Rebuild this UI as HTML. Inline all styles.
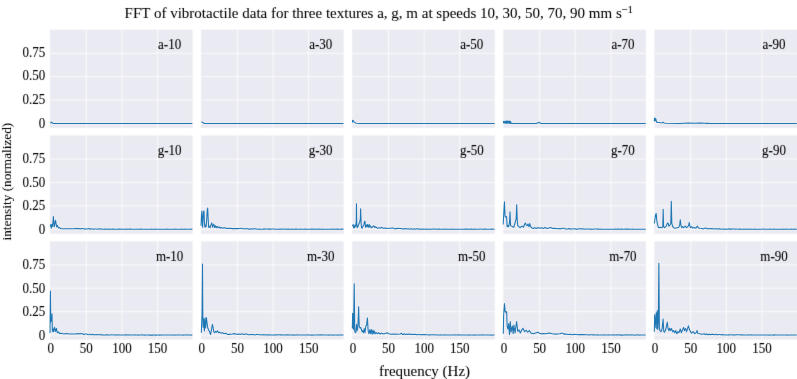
<!DOCTYPE html>
<html><head><meta charset="utf-8"><style>
html,body{margin:0;padding:0;background:#fff;}
svg{display:block;}
.t{font-family:"Liberation Serif",serif;font-size:13px;fill:#000;stroke:#000;stroke-width:0.08px;}
.g{stroke:#fff;stroke-width:1;stroke-opacity:0.75;}
.ln{fill:none;stroke:#1f77b4;stroke-width:1.05;stroke-linejoin:round;}
</style></head><body>
<svg width="797" height="379" viewBox="0 0 797 379">
<defs><filter id="bl" x="0" y="0" width="797" height="379" filterUnits="userSpaceOnUse" primitiveUnits="userSpaceOnUse"><feConvolveMatrix order="3" kernelMatrix="0.01134 0.08382 0.01134 0.08382 0.61935 0.08382 0.01134 0.08382 0.01134" edgeMode="duplicate"/></filter><filter id="bt" x="0" y="0" width="797" height="379" filterUnits="userSpaceOnUse" primitiveUnits="userSpaceOnUse"><feConvolveMatrix order="3" kernelMatrix="0.00524 0.06192 0.00524 0.06192 0.73137 0.06192 0.00524 0.06192 0.00524" edgeMode="duplicate"/></filter></defs>
<g filter="url(#bl)">
<rect width="797" height="379" fill="#fff"/>
<rect x="50.00" y="29.7" width="142.60" height="98.3" fill="#eaeaf2"/>
<line x1="50.00" x2="192.6" y1="123.45" y2="123.45" class="g"/>
<line x1="50.00" x2="192.6" y1="100.05" y2="100.05" class="g"/>
<line x1="50.00" x2="192.6" y1="76.65" y2="76.65" class="g"/>
<line x1="50.00" x2="192.6" y1="53.25" y2="53.25" class="g"/>
<line x1="86.33" x2="86.33" y1="29.7" y2="128.0" class="g"/>
<line x1="121.95" x2="121.95" y1="29.7" y2="128.0" class="g"/>
<line x1="157.57" x2="157.57" y1="29.7" y2="128.0" class="g"/>
<rect x="201.10" y="29.7" width="142.60" height="98.3" fill="#eaeaf2"/>
<line x1="201.10" x2="343.7" y1="123.45" y2="123.45" class="g"/>
<line x1="201.10" x2="343.7" y1="100.05" y2="100.05" class="g"/>
<line x1="201.10" x2="343.7" y1="76.65" y2="76.65" class="g"/>
<line x1="201.10" x2="343.7" y1="53.25" y2="53.25" class="g"/>
<line x1="237.42" x2="237.42" y1="29.7" y2="128.0" class="g"/>
<line x1="273.05" x2="273.05" y1="29.7" y2="128.0" class="g"/>
<line x1="308.67" x2="308.67" y1="29.7" y2="128.0" class="g"/>
<rect x="352.20" y="29.7" width="142.60" height="98.3" fill="#eaeaf2"/>
<line x1="352.20" x2="494.8" y1="123.45" y2="123.45" class="g"/>
<line x1="352.20" x2="494.8" y1="100.05" y2="100.05" class="g"/>
<line x1="352.20" x2="494.8" y1="76.65" y2="76.65" class="g"/>
<line x1="352.20" x2="494.8" y1="53.25" y2="53.25" class="g"/>
<line x1="388.53" x2="388.53" y1="29.7" y2="128.0" class="g"/>
<line x1="424.15" x2="424.15" y1="29.7" y2="128.0" class="g"/>
<line x1="459.78" x2="459.78" y1="29.7" y2="128.0" class="g"/>
<rect x="503.30" y="29.7" width="142.60" height="98.3" fill="#eaeaf2"/>
<line x1="503.30" x2="645.9" y1="123.45" y2="123.45" class="g"/>
<line x1="503.30" x2="645.9" y1="100.05" y2="100.05" class="g"/>
<line x1="503.30" x2="645.9" y1="76.65" y2="76.65" class="g"/>
<line x1="503.30" x2="645.9" y1="53.25" y2="53.25" class="g"/>
<line x1="539.62" x2="539.62" y1="29.7" y2="128.0" class="g"/>
<line x1="575.25" x2="575.25" y1="29.7" y2="128.0" class="g"/>
<line x1="610.88" x2="610.88" y1="29.7" y2="128.0" class="g"/>
<rect x="654.40" y="29.7" width="142.60" height="98.3" fill="#eaeaf2"/>
<line x1="654.40" x2="797.0" y1="123.45" y2="123.45" class="g"/>
<line x1="654.40" x2="797.0" y1="100.05" y2="100.05" class="g"/>
<line x1="654.40" x2="797.0" y1="76.65" y2="76.65" class="g"/>
<line x1="654.40" x2="797.0" y1="53.25" y2="53.25" class="g"/>
<line x1="690.73" x2="690.73" y1="29.7" y2="128.0" class="g"/>
<line x1="726.35" x2="726.35" y1="29.7" y2="128.0" class="g"/>
<line x1="761.98" x2="761.98" y1="29.7" y2="128.0" class="g"/>
<rect x="50.00" y="135.5" width="142.60" height="98.3" fill="#eaeaf2"/>
<line x1="50.00" x2="192.6" y1="229.25" y2="229.25" class="g"/>
<line x1="50.00" x2="192.6" y1="205.85" y2="205.85" class="g"/>
<line x1="50.00" x2="192.6" y1="182.45" y2="182.45" class="g"/>
<line x1="50.00" x2="192.6" y1="159.05" y2="159.05" class="g"/>
<line x1="86.33" x2="86.33" y1="135.5" y2="233.8" class="g"/>
<line x1="121.95" x2="121.95" y1="135.5" y2="233.8" class="g"/>
<line x1="157.57" x2="157.57" y1="135.5" y2="233.8" class="g"/>
<rect x="201.10" y="135.5" width="142.60" height="98.3" fill="#eaeaf2"/>
<line x1="201.10" x2="343.7" y1="229.25" y2="229.25" class="g"/>
<line x1="201.10" x2="343.7" y1="205.85" y2="205.85" class="g"/>
<line x1="201.10" x2="343.7" y1="182.45" y2="182.45" class="g"/>
<line x1="201.10" x2="343.7" y1="159.05" y2="159.05" class="g"/>
<line x1="237.42" x2="237.42" y1="135.5" y2="233.8" class="g"/>
<line x1="273.05" x2="273.05" y1="135.5" y2="233.8" class="g"/>
<line x1="308.67" x2="308.67" y1="135.5" y2="233.8" class="g"/>
<rect x="352.20" y="135.5" width="142.60" height="98.3" fill="#eaeaf2"/>
<line x1="352.20" x2="494.8" y1="229.25" y2="229.25" class="g"/>
<line x1="352.20" x2="494.8" y1="205.85" y2="205.85" class="g"/>
<line x1="352.20" x2="494.8" y1="182.45" y2="182.45" class="g"/>
<line x1="352.20" x2="494.8" y1="159.05" y2="159.05" class="g"/>
<line x1="388.53" x2="388.53" y1="135.5" y2="233.8" class="g"/>
<line x1="424.15" x2="424.15" y1="135.5" y2="233.8" class="g"/>
<line x1="459.78" x2="459.78" y1="135.5" y2="233.8" class="g"/>
<rect x="503.30" y="135.5" width="142.60" height="98.3" fill="#eaeaf2"/>
<line x1="503.30" x2="645.9" y1="229.25" y2="229.25" class="g"/>
<line x1="503.30" x2="645.9" y1="205.85" y2="205.85" class="g"/>
<line x1="503.30" x2="645.9" y1="182.45" y2="182.45" class="g"/>
<line x1="503.30" x2="645.9" y1="159.05" y2="159.05" class="g"/>
<line x1="539.62" x2="539.62" y1="135.5" y2="233.8" class="g"/>
<line x1="575.25" x2="575.25" y1="135.5" y2="233.8" class="g"/>
<line x1="610.88" x2="610.88" y1="135.5" y2="233.8" class="g"/>
<rect x="654.40" y="135.5" width="142.60" height="98.3" fill="#eaeaf2"/>
<line x1="654.40" x2="797.0" y1="229.25" y2="229.25" class="g"/>
<line x1="654.40" x2="797.0" y1="205.85" y2="205.85" class="g"/>
<line x1="654.40" x2="797.0" y1="182.45" y2="182.45" class="g"/>
<line x1="654.40" x2="797.0" y1="159.05" y2="159.05" class="g"/>
<line x1="690.73" x2="690.73" y1="135.5" y2="233.8" class="g"/>
<line x1="726.35" x2="726.35" y1="135.5" y2="233.8" class="g"/>
<line x1="761.98" x2="761.98" y1="135.5" y2="233.8" class="g"/>
<rect x="50.00" y="241.3" width="142.60" height="98.3" fill="#eaeaf2"/>
<line x1="50.00" x2="192.6" y1="335.05" y2="335.05" class="g"/>
<line x1="50.00" x2="192.6" y1="311.65" y2="311.65" class="g"/>
<line x1="50.00" x2="192.6" y1="288.25" y2="288.25" class="g"/>
<line x1="50.00" x2="192.6" y1="264.85" y2="264.85" class="g"/>
<line x1="86.33" x2="86.33" y1="241.3" y2="339.6" class="g"/>
<line x1="121.95" x2="121.95" y1="241.3" y2="339.6" class="g"/>
<line x1="157.57" x2="157.57" y1="241.3" y2="339.6" class="g"/>
<rect x="201.10" y="241.3" width="142.60" height="98.3" fill="#eaeaf2"/>
<line x1="201.10" x2="343.7" y1="335.05" y2="335.05" class="g"/>
<line x1="201.10" x2="343.7" y1="311.65" y2="311.65" class="g"/>
<line x1="201.10" x2="343.7" y1="288.25" y2="288.25" class="g"/>
<line x1="201.10" x2="343.7" y1="264.85" y2="264.85" class="g"/>
<line x1="237.42" x2="237.42" y1="241.3" y2="339.6" class="g"/>
<line x1="273.05" x2="273.05" y1="241.3" y2="339.6" class="g"/>
<line x1="308.67" x2="308.67" y1="241.3" y2="339.6" class="g"/>
<rect x="352.20" y="241.3" width="142.60" height="98.3" fill="#eaeaf2"/>
<line x1="352.20" x2="494.8" y1="335.05" y2="335.05" class="g"/>
<line x1="352.20" x2="494.8" y1="311.65" y2="311.65" class="g"/>
<line x1="352.20" x2="494.8" y1="288.25" y2="288.25" class="g"/>
<line x1="352.20" x2="494.8" y1="264.85" y2="264.85" class="g"/>
<line x1="388.53" x2="388.53" y1="241.3" y2="339.6" class="g"/>
<line x1="424.15" x2="424.15" y1="241.3" y2="339.6" class="g"/>
<line x1="459.78" x2="459.78" y1="241.3" y2="339.6" class="g"/>
<rect x="503.30" y="241.3" width="142.60" height="98.3" fill="#eaeaf2"/>
<line x1="503.30" x2="645.9" y1="335.05" y2="335.05" class="g"/>
<line x1="503.30" x2="645.9" y1="311.65" y2="311.65" class="g"/>
<line x1="503.30" x2="645.9" y1="288.25" y2="288.25" class="g"/>
<line x1="503.30" x2="645.9" y1="264.85" y2="264.85" class="g"/>
<line x1="539.62" x2="539.62" y1="241.3" y2="339.6" class="g"/>
<line x1="575.25" x2="575.25" y1="241.3" y2="339.6" class="g"/>
<line x1="610.88" x2="610.88" y1="241.3" y2="339.6" class="g"/>
<rect x="654.40" y="241.3" width="142.60" height="98.3" fill="#eaeaf2"/>
<line x1="654.40" x2="797.0" y1="335.05" y2="335.05" class="g"/>
<line x1="654.40" x2="797.0" y1="311.65" y2="311.65" class="g"/>
<line x1="654.40" x2="797.0" y1="288.25" y2="288.25" class="g"/>
<line x1="654.40" x2="797.0" y1="264.85" y2="264.85" class="g"/>
<line x1="690.73" x2="690.73" y1="241.3" y2="339.6" class="g"/>
<line x1="726.35" x2="726.35" y1="241.3" y2="339.6" class="g"/>
<line x1="761.98" x2="761.98" y1="241.3" y2="339.6" class="g"/>
</g>
<g>
<polyline points="50.40,123.30 51.00,122.60 51.60,122.00 52.30,122.90 53.50,123.40 55.00,123.41 59.00,123.45 63.00,123.47 67.00,123.49 71.00,123.50 75.00,123.51 79.00,123.52 83.00,123.53 87.00,123.53 91.00,123.54 192.40,123.55" class="ln"/>
<polyline points="201.50,122.30 202.20,122.00 203.00,122.80 204.50,123.40 206.00,123.41 210.00,123.45 214.00,123.47 218.00,123.49 222.00,123.50 226.00,123.51 230.00,123.52 234.00,123.53 238.00,123.53 242.00,123.54 343.50,123.55" class="ln"/>
<polyline points="352.40,122.50 352.60,120.30 353.20,120.60 353.80,121.60 354.50,122.30 355.50,122.90 356.50,123.30 360.00,123.40 361.50,123.41 365.50,123.45 369.50,123.47 373.50,123.49 377.50,123.50 381.50,123.51 385.50,123.52 389.50,123.53 393.50,123.53 397.50,123.54 494.60,123.55" class="ln"/>
<polyline points="503.30,121.19 503.75,123.09 504.20,121.39 504.65,123.04 505.10,121.32 505.55,123.22 506.00,121.03 506.45,123.30 506.90,121.02 507.35,123.26 507.80,121.04 508.25,123.05 508.70,121.25 509.15,123.50 509.60,121.07 510.05,123.13 510.50,121.38 510.95,123.57 511.50,123.30 513.00,123.55 536.00,123.55 538.30,122.80 539.00,122.20 539.80,123.00 541.00,123.50 542.50,123.50 546.50,123.52 550.50,123.52 554.50,123.53 558.50,123.53 562.50,123.54 566.50,123.54 570.50,123.54 574.50,123.54 578.50,123.55 645.70,123.55" class="ln"/>
<polyline points="654.30,121.20 654.50,118.00 654.80,121.00 655.10,118.20 655.50,120.60 655.90,119.00 656.40,121.30 657.00,122.50 659.00,122.60 661.00,122.80 662.30,122.90 663.10,122.20 663.90,123.00 666.00,123.30 680.00,123.40 688.00,123.10 695.00,123.35 700.00,123.00 705.00,123.35 706.50,123.37 710.50,123.41 714.50,123.44 718.50,123.47 722.50,123.49 726.50,123.50 730.50,123.51 734.50,123.52 738.50,123.53 742.50,123.53 796.80,123.55" class="ln"/>
<polyline points="50.00,226.40 50.80,224.60 51.30,228.30 52.00,224.40 52.60,226.40 53.40,216.60 54.20,226.80 55.50,220.40 56.60,226.80 57.30,225.20 58.30,227.90 59.50,227.60 60.70,228.70 65.00,228.80 75.00,228.70 75.70,228.20 76.50,228.80 78.00,228.57 78.90,228.77 79.80,228.63 80.70,229.06 81.60,228.46 82.50,228.49 83.40,228.69 84.30,229.15 85.20,228.85 86.10,229.03 87.00,229.10 87.90,228.60 88.80,228.59 89.70,229.27 90.60,228.74 91.50,228.93 92.40,229.08 93.30,229.14 94.20,228.93 95.10,229.06 96.00,228.95 96.90,228.98 97.80,229.25 98.70,228.95 99.60,228.86 100.50,228.88 101.40,229.05 102.30,229.30 103.20,229.32 104.10,229.27 105.00,228.95 105.90,229.20 106.80,229.18 107.70,228.99 108.60,229.21 109.50,229.13 110.40,229.17 111.30,229.30 112.20,229.13 113.10,229.05 114.00,229.28 114.90,229.26 115.80,229.20 116.70,229.32 117.60,229.18 118.50,229.08 119.40,229.13 120.30,229.17 121.20,229.08 122.10,229.29 123.00,229.17 123.90,229.22 124.80,229.16 125.70,229.30 126.60,229.11 127.50,229.31 128.40,229.29 129.30,229.11 130.20,229.07 131.10,229.22 132.00,229.22 132.90,229.27 133.80,229.26 134.70,229.17 135.60,229.29 136.50,229.30 137.40,229.21 138.30,229.29 139.20,229.16 140.10,229.12 141.00,229.13 141.90,229.21 142.80,229.25 143.70,229.22 144.60,229.33 145.50,229.15 146.40,229.25 147.30,229.25 148.20,229.32 149.10,229.22 150.00,229.19 150.90,229.24 151.80,229.11 152.70,229.16 153.60,229.27 154.50,229.20 155.40,229.11 156.30,229.20 157.20,229.18 158.10,229.32 159.00,229.21 159.90,229.22 160.80,229.24 161.70,229.23 162.60,229.19 163.50,229.20 164.40,229.21 165.30,229.30 166.20,229.23 167.10,229.09 168.00,229.23 168.90,229.33 169.80,229.34 170.70,229.20 171.60,229.32 172.50,229.31 173.40,229.31 174.30,229.22 175.20,229.09 176.10,229.22 177.00,229.22 177.90,229.23 178.80,229.21 179.70,229.23 180.60,229.16 181.50,229.11 182.40,229.16 183.30,229.23 184.20,229.17 185.10,229.11 186.00,229.30 186.90,229.28 187.80,229.18 188.70,229.17 189.60,229.18 190.50,229.19 191.40,229.13 192.40,229.25" class="ln"/>
<polyline points="201.05,225.87 201.51,213.86 201.88,211.09 202.25,218.48 202.62,227.25 203.08,218.48 203.54,211.55 204.00,211.09 204.47,223.09 204.93,227.25 205.58,224.94 206.13,226.79 206.78,218.48 207.24,210.16 207.70,208.13 208.16,218.48 208.62,227.25 209.27,226.33 210.01,227.71 210.93,224.94 211.86,222.91 212.60,227.25 213.24,225.40 213.89,224.20 214.63,227.53 215.55,225.87 216.29,227.71 217.21,226.33 218.14,227.71 219.06,226.79 220.17,228.18 221.56,227.53 222.94,228.18 224.79,227.71 226.64,228.45 229.41,228.18 232.18,228.64 234.95,228.45 238.00,228.64 239.50,228.57 240.40,228.48 241.30,228.12 242.20,228.67 243.10,228.66 244.00,228.61 244.90,229.02 245.80,228.74 246.70,228.67 247.60,228.57 248.50,229.14 249.40,229.00 250.30,229.16 251.20,228.69 252.10,228.79 253.00,229.22 253.90,228.66 254.80,228.69 255.70,228.89 256.60,228.93 257.50,229.18 258.40,229.26 259.30,229.02 260.20,229.25 261.10,229.19 262.00,229.18 262.90,229.27 263.80,229.09 264.70,229.11 265.60,228.95 266.50,229.09 267.40,229.05 268.30,229.11 269.20,229.06 270.10,229.14 271.00,229.21 271.90,228.96 272.80,228.97 273.70,229.03 274.60,229.08 275.50,229.21 276.40,229.24 277.30,229.22 278.20,229.30 279.10,229.08 280.00,229.20 280.90,229.07 281.80,229.21 282.70,229.04 283.60,229.08 284.50,229.32 285.40,229.26 286.30,229.07 287.20,229.19 288.10,229.05 289.00,229.22 289.90,229.31 290.80,229.16 291.70,229.12 292.60,229.26 293.50,229.31 294.40,229.24 295.30,229.07 296.20,229.13 297.10,229.30 298.00,229.27 298.90,229.31 299.80,229.32 300.70,229.12 301.60,229.29 302.50,229.19 303.40,229.22 304.30,229.28 305.20,229.14 306.10,229.30 307.00,229.17 307.90,229.30 308.80,229.23 309.70,229.28 310.60,229.27 311.50,229.09 312.40,229.13 313.30,229.26 314.20,229.11 315.10,229.28 316.00,229.24 316.90,229.12 317.80,229.17 318.70,229.31 319.60,229.09 320.50,229.28 321.40,229.27 322.30,229.14 323.20,229.25 324.10,229.26 325.00,229.32 325.90,229.31 326.80,229.19 327.70,229.28 328.60,229.19 329.50,229.24 330.40,229.22 331.30,229.10 332.20,229.22 333.10,229.19 334.00,229.12 334.90,229.29 335.80,229.30 336.70,229.11 337.60,229.13 338.50,229.27 339.40,229.29 340.30,229.15 341.20,229.10 342.10,229.29 343.00,229.10 343.50,229.25" class="ln"/>
<polyline points="352.31,224.94 352.77,225.87 353.23,224.48 353.70,227.71 354.16,226.33 354.62,227.71 355.08,224.94 355.73,226.33 356.28,221.25 356.47,203.70 356.74,224.02 357.21,227.71 357.85,226.79 358.78,224.02 359.70,222.17 360.35,218.48 360.62,208.78 361.09,222.17 361.55,227.71 362.19,228.18 362.93,226.33 363.86,224.94 364.60,221.25 364.97,221.25 365.52,227.25 366.17,224.94 366.81,226.79 367.55,224.48 368.29,227.25 369.21,224.48 369.86,227.25 370.51,225.87 371.43,227.71 372.63,226.79 373.83,225.87 374.76,227.53 375.87,226.79 377.25,228.18 379.10,227.71 380.48,228.18 381.87,227.25 382.79,228.18 385.10,227.99 387.41,228.45 390.00,228.18 391.50,228.13 392.40,227.98 393.30,228.04 394.20,228.66 395.10,228.83 396.00,228.51 396.90,228.64 397.80,228.21 398.70,228.36 399.60,228.48 400.50,228.56 401.40,228.52 402.30,228.92 403.20,228.75 404.10,228.95 405.00,228.51 405.90,229.05 406.80,228.63 407.70,229.08 408.60,228.76 409.50,228.97 410.40,228.95 411.30,228.75 412.20,229.16 413.10,229.15 414.00,228.78 414.90,228.98 415.80,229.17 416.70,228.81 417.60,228.84 418.50,229.18 419.40,229.07 420.30,229.19 421.20,229.13 422.10,229.03 423.00,229.20 423.90,229.02 424.80,229.25 425.70,229.21 426.60,229.00 427.50,229.15 428.40,229.15 429.30,229.09 430.20,229.14 431.10,229.17 432.00,229.28 432.90,229.08 433.80,229.01 434.70,229.01 435.60,229.11 436.50,229.20 437.40,229.20 438.30,229.11 439.20,229.12 440.10,229.28 441.00,229.25 441.90,229.21 442.80,229.17 443.70,229.09 444.60,229.18 445.50,229.31 446.40,229.10 447.30,229.21 448.20,229.18 449.10,229.26 450.00,229.21 450.90,229.22 451.80,229.12 452.70,229.30 453.60,229.18 454.50,229.28 455.40,229.15 456.30,229.32 457.20,229.26 458.10,229.24 459.00,229.17 459.90,229.32 460.80,229.21 461.70,229.28 462.60,229.26 463.50,229.21 464.40,229.09 465.30,229.21 466.20,229.09 467.10,229.29 468.00,229.10 468.90,229.24 469.80,229.29 470.70,229.14 471.60,229.10 472.50,229.33 473.40,229.27 474.30,229.14 475.20,229.25 476.10,229.27 477.00,229.33 477.90,229.33 478.80,229.18 479.70,229.09 480.60,229.08 481.50,229.21 482.40,229.33 483.30,229.25 484.20,229.14 485.10,229.13 486.00,229.18 486.90,229.28 487.80,229.20 488.70,229.22 489.60,229.18 490.50,229.27 491.40,229.10 492.30,229.11 493.20,229.30 494.10,229.26 494.60,229.25" class="ln"/>
<polyline points="503.17,224.57 503.70,215.06 504.44,201.86 505.07,216.12 505.81,217.18 506.55,216.65 507.18,226.68 507.92,225.62 508.66,226.68 509.50,222.46 510.03,211.90 510.56,225.62 511.62,226.15 512.67,226.68 513.73,227.21 514.78,224.04 515.63,220.34 516.16,219.29 516.68,204.71 517.21,219.29 517.74,225.62 519.01,226.68 520.06,227.73 521.12,226.68 522.18,226.15 523.44,227.21 524.50,224.57 525.34,222.98 526.19,225.10 527.03,225.62 527.98,224.04 529.04,226.68 529.78,223.51 530.62,226.68 531.68,227.73 533.26,228.58 534.85,227.73 536.43,228.58 538.01,227.52 539.60,228.26 541.71,227.73 543.29,228.58 544.88,227.52 546.99,228.58 549.10,227.95 550.69,227.52 552.80,228.58 554.91,228.26 557.55,228.79 559.98,228.58 561.48,228.76 562.38,228.28 563.28,228.34 564.18,228.21 565.08,228.94 565.98,228.92 566.88,229.01 567.78,228.96 568.68,228.55 569.58,229.07 570.48,228.78 571.38,229.04 572.28,228.99 573.18,228.92 574.08,228.67 574.98,228.84 575.88,229.22 576.78,229.07 577.68,229.16 578.58,228.77 579.48,228.83 580.38,228.85 581.28,228.85 582.18,228.91 583.08,228.83 583.98,228.92 584.88,229.16 585.78,228.92 586.68,229.08 587.58,228.98 588.48,229.07 589.38,229.13 590.28,229.16 591.18,229.14 592.08,229.18 592.98,229.26 593.88,229.02 594.78,229.03 595.68,228.97 596.58,229.08 597.48,229.13 598.38,229.07 599.28,229.27 600.18,229.10 601.08,229.18 601.98,229.26 602.88,229.26 603.78,229.16 604.68,229.24 605.58,229.19 606.48,229.15 607.38,229.21 608.28,229.29 609.18,229.18 610.08,229.26 610.98,229.26 611.88,229.27 612.78,229.23 613.68,229.31 614.58,229.15 615.48,229.07 616.38,229.22 617.28,229.14 618.18,229.08 619.08,229.32 619.98,229.29 620.88,229.12 621.78,229.11 622.68,229.16 623.58,229.29 624.48,229.22 625.38,229.11 626.28,229.10 627.18,229.13 628.08,229.28 628.98,229.11 629.88,229.24 630.78,229.15 631.68,229.30 632.58,229.09 633.48,229.18 634.38,229.15 635.28,229.28 636.18,229.18 637.08,229.19 637.98,229.18 638.88,229.24 639.78,229.15 640.68,229.25 641.58,229.26 642.48,229.29 643.38,229.16 644.28,229.31 645.18,229.28 645.70,229.25" class="ln"/>
<polyline points="654.32,223.48 654.95,219.26 655.38,216.10 655.69,213.99 656.01,216.62 656.22,213.46 656.75,220.32 657.27,223.48 658.12,226.65 658.86,227.70 660.44,227.17 662.02,227.70 662.76,226.65 663.18,209.24 663.60,226.65 664.66,227.70 666.24,226.12 667.30,223.48 668.03,222.95 668.88,226.12 669.93,225.06 670.78,223.48 671.30,201.33 671.83,223.48 672.57,226.12 673.62,227.70 675.21,228.23 677.32,227.70 678.90,227.17 679.64,225.06 680.27,219.79 680.90,225.06 681.75,227.70 682.59,226.65 683.65,227.70 685.23,226.12 686.60,227.70 687.86,226.65 688.71,225.06 689.24,222.43 689.76,225.59 690.50,227.70 691.56,226.65 692.61,227.91 694.19,227.49 695.78,228.23 697.36,226.12 698.41,227.91 700.00,228.23 702.00,228.54 703.50,228.91 704.40,228.23 705.30,228.34 706.20,228.08 707.10,228.82 708.00,228.87 708.90,228.45 709.80,228.56 710.70,228.89 711.60,228.61 712.50,228.86 713.40,228.60 714.30,229.10 715.20,229.04 716.10,228.61 717.00,228.98 717.90,229.06 718.80,228.75 719.70,228.87 720.60,229.15 721.50,228.95 722.40,228.91 723.30,229.17 724.20,228.94 725.10,229.20 726.00,229.11 726.90,229.23 727.80,229.18 728.70,228.87 729.60,229.12 730.50,228.89 731.40,229.12 732.30,229.06 733.20,228.97 734.10,229.04 735.00,229.26 735.90,229.09 736.80,229.08 737.70,229.24 738.60,229.27 739.50,229.02 740.40,229.14 741.30,229.25 742.20,229.17 743.10,229.24 744.00,229.07 744.90,229.16 745.80,229.29 746.70,229.08 747.60,229.29 748.50,229.24 749.40,229.31 750.30,229.11 751.20,229.29 752.10,229.18 753.00,229.30 753.90,229.19 754.80,229.14 755.70,229.18 756.60,229.20 757.50,229.20 758.40,229.21 759.30,229.17 760.20,229.30 761.10,229.20 762.00,229.27 762.90,229.10 763.80,229.08 764.70,229.31 765.60,229.29 766.50,229.15 767.40,229.18 768.30,229.33 769.20,229.15 770.10,229.09 771.00,229.22 771.90,229.24 772.80,229.19 773.70,229.09 774.60,229.27 775.50,229.26 776.40,229.29 777.30,229.17 778.20,229.22 779.10,229.27 780.00,229.24 780.90,229.33 781.80,229.26 782.70,229.09 783.60,229.19 784.50,229.26 785.40,229.10 786.30,229.25 787.20,229.27 788.10,229.33 789.00,229.30 789.90,229.29 790.80,229.28 791.70,229.12 792.60,229.27 793.50,229.27 794.40,229.18 795.30,229.11 796.20,229.26 796.80,229.25" class="ln"/>
<polyline points="50.00,333.00 50.40,291.00 50.80,322.00 51.40,319.00 52.00,313.70 52.40,331.50 52.90,328.50 53.60,331.70 54.50,327.20 55.40,331.50 56.40,328.30 57.30,332.70 58.30,331.80 59.60,333.60 61.00,333.30 62.30,333.60 64.00,333.90 66.00,333.60 70.00,334.00 76.00,334.00 77.30,333.60 78.50,334.10 80.00,333.50 80.90,333.84 81.80,333.82 82.70,333.74 83.60,334.47 84.50,334.14 85.40,333.94 86.30,334.03 87.20,334.33 88.10,334.69 89.00,334.53 89.90,334.13 90.80,334.81 91.70,334.68 92.60,334.29 93.50,334.64 94.40,334.81 95.30,334.76 96.20,334.44 97.10,334.78 98.00,334.75 98.90,334.67 99.80,334.60 100.70,334.77 101.60,334.97 102.50,334.76 103.40,335.01 104.30,334.99 105.20,334.96 106.10,334.76 107.00,334.93 107.90,334.79 108.80,334.99 109.70,335.02 110.60,335.06 111.50,334.82 112.40,334.77 113.30,335.00 114.20,335.00 115.10,335.08 116.00,334.88 116.90,334.99 117.80,335.05 118.70,334.89 119.60,334.91 120.50,334.96 121.40,335.05 122.30,334.91 123.20,334.94 124.10,334.98 125.00,335.06 125.90,334.84 126.80,334.87 127.70,334.92 128.60,334.83 129.50,334.95 130.40,335.02 131.30,335.09 132.20,334.95 133.10,334.98 134.00,335.00 134.90,334.85 135.80,334.90 136.70,335.09 137.60,334.89 138.50,335.12 139.40,334.95 140.30,335.04 141.20,334.94 142.10,334.88 143.00,334.99 143.90,334.93 144.80,335.12 145.70,334.96 146.60,335.10 147.50,335.01 148.40,335.05 149.30,335.11 150.20,334.94 151.10,335.11 152.00,335.07 152.90,335.11 153.80,334.96 154.70,335.06 155.60,335.12 156.50,335.13 157.40,335.08 158.30,335.01 159.20,335.13 160.10,335.13 161.00,334.97 161.90,335.00 162.80,335.10 163.70,335.06 164.60,335.10 165.50,335.07 166.40,335.04 167.30,335.08 168.20,335.09 169.10,335.08 170.00,335.06 170.90,335.00 171.80,334.91 172.70,334.97 173.60,335.02 174.50,335.14 175.40,335.09 176.30,334.98 177.20,335.03 178.10,334.92 179.00,334.91 179.90,335.06 180.80,335.05 181.70,335.06 182.60,334.97 183.50,335.11 184.40,335.07 185.30,334.92 186.20,335.04 187.10,334.89 188.00,335.04 188.90,334.93 189.80,335.02 190.70,335.11 191.60,334.99 192.40,335.05" class="ln"/>
<polyline points="201.31,332.71 202.05,314.24 202.51,264.08 202.79,314.24 203.16,327.17 203.62,318.86 204.36,330.87 205.00,317.93 205.65,328.09 206.39,317.47 207.13,323.48 207.78,328.09 208.70,329.94 209.62,331.79 210.55,334.56 211.47,329.94 212.39,324.40 213.04,327.17 213.78,331.79 214.70,332.71 215.63,331.33 216.55,332.25 217.48,330.87 218.58,332.71 219.79,332.25 221.17,333.18 222.56,332.71 223.94,333.64 225.79,333.18 227.64,334.56 229.48,334.38 232.26,334.10 235.03,333.64 236.88,334.38 239.00,334.10 240.50,334.42 241.40,333.84 242.30,333.97 243.20,334.19 244.10,334.51 245.00,333.99 245.90,334.03 246.80,334.34 247.70,334.39 248.60,334.64 249.50,334.85 250.40,334.59 251.30,334.47 252.20,334.85 253.10,334.39 254.00,334.77 254.90,334.79 255.80,334.92 256.70,334.40 257.60,334.56 258.50,334.52 259.40,334.67 260.30,334.98 261.20,334.84 262.10,334.78 263.00,334.96 263.90,334.61 264.80,334.87 265.70,334.97 266.60,334.71 267.50,335.00 268.40,334.69 269.30,334.89 270.20,334.86 271.10,334.94 272.00,334.90 272.90,335.01 273.80,335.06 274.70,334.79 275.60,335.01 276.50,334.83 277.40,335.02 278.30,334.79 279.20,334.81 280.10,334.86 281.00,334.87 281.90,334.93 282.80,334.89 283.70,335.07 284.60,334.97 285.50,334.87 286.40,335.05 287.30,334.85 288.20,334.86 289.10,335.00 290.00,335.01 290.90,334.99 291.80,335.01 292.70,334.85 293.60,335.02 294.50,335.11 295.40,335.10 296.30,334.93 297.20,334.86 298.10,334.99 299.00,335.00 299.90,334.98 300.80,334.93 301.70,335.07 302.60,334.97 303.50,334.98 304.40,334.97 305.30,335.08 306.20,335.09 307.10,335.04 308.00,334.89 308.90,335.04 309.80,334.98 310.70,335.05 311.60,335.11 312.50,335.12 313.40,334.92 314.30,334.93 315.20,335.04 316.10,334.96 317.00,334.96 317.90,334.91 318.80,334.89 319.70,335.03 320.60,334.88 321.50,334.89 322.40,334.99 323.30,334.91 324.20,335.01 325.10,335.04 326.00,335.07 326.90,334.91 327.80,335.09 328.70,335.12 329.60,334.93 330.50,334.94 331.40,335.01 332.30,334.93 333.20,335.12 334.10,335.07 335.00,335.06 335.90,335.03 336.80,335.09 337.70,335.12 338.60,335.05 339.50,334.91 340.40,334.89 341.30,334.95 342.20,335.02 343.10,335.07 343.50,335.05" class="ln"/>
<polyline points="352.32,328.48 352.64,313.19 353.16,325.32 353.59,329.54 354.22,283.86 354.75,331.65 355.80,332.70 356.54,324.26 357.17,330.59 357.91,326.37 358.33,315.82 358.65,306.86 358.97,318.99 359.28,326.37 360.02,327.95 360.76,327.43 361.39,329.54 362.13,331.65 362.66,330.59 363.50,332.70 364.24,328.48 364.98,332.70 365.82,326.37 366.67,324.79 367.41,317.93 368.14,330.59 368.99,333.76 369.83,329.54 370.57,333.76 371.31,329.54 372.15,334.28 373.00,330.06 373.73,333.76 374.47,331.12 375.32,333.76 376.37,332.70 377.43,333.76 378.48,332.70 380.06,333.97 381.65,333.23 383.76,333.97 385.86,333.23 387.45,332.70 388.50,333.76 391.14,334.28 394.30,333.97 397.47,334.28 400.00,333.97 401.50,333.32 402.40,334.38 403.30,334.55 404.20,333.54 405.10,334.45 406.00,334.55 406.90,334.09 407.80,334.41 408.70,333.99 409.60,334.58 410.50,334.04 411.40,334.57 412.30,334.40 413.20,334.21 414.10,334.41 415.00,334.29 415.90,334.46 416.80,334.87 417.70,334.42 418.60,334.61 419.50,334.78 420.40,334.85 421.30,334.54 422.20,334.69 423.10,334.55 424.00,334.64 424.90,334.58 425.80,334.76 426.70,334.72 427.60,334.77 428.50,334.92 429.40,334.66 430.30,334.92 431.20,334.76 432.10,334.70 433.00,334.82 433.90,335.01 434.80,334.78 435.70,334.84 436.60,335.01 437.50,335.06 438.40,334.91 439.30,335.07 440.20,334.80 441.10,334.93 442.00,334.93 442.90,334.97 443.80,334.90 444.70,334.83 445.60,335.01 446.50,334.99 447.40,334.94 448.30,335.02 449.20,334.94 450.10,334.96 451.00,334.99 451.90,334.93 452.80,334.97 453.70,335.09 454.60,334.85 455.50,335.02 456.40,335.00 457.30,335.01 458.20,334.87 459.10,334.87 460.00,334.99 460.90,335.02 461.80,335.10 462.70,334.89 463.60,335.08 464.50,334.98 465.40,335.04 466.30,335.04 467.20,335.04 468.10,335.08 469.00,335.12 469.90,334.99 470.80,334.93 471.70,334.96 472.60,335.08 473.50,334.95 474.40,335.12 475.30,335.03 476.20,334.92 477.10,334.90 478.00,335.02 478.90,334.92 479.80,335.01 480.70,335.00 481.60,334.99 482.50,334.88 483.40,334.95 484.30,335.01 485.20,334.95 486.10,334.97 487.00,335.05 487.90,334.94 488.80,334.93 489.70,334.98 490.60,334.90 491.50,335.13 492.40,335.01 493.30,334.98 494.20,335.05 494.60,335.05" class="ln"/>
<polyline points="503.30,333.82 503.60,316.41 504.43,303.43 505.22,311.66 506.02,312.45 506.65,311.66 507.12,325.91 507.92,329.07 508.71,323.53 509.50,334.61 510.29,321.48 511.08,332.24 512.35,325.91 513.14,333.82 513.93,325.12 515.04,333.03 516.62,321.48 517.73,331.45 519.00,329.87 520.26,333.03 521.37,330.66 522.95,328.28 524.54,331.45 526.12,330.34 527.70,332.24 529.29,330.66 530.87,333.03 533.24,333.82 535.62,333.03 537.99,332.24 540.37,333.82 542.74,333.51 545.91,333.82 549.07,333.03 552.24,333.82 555.41,334.14 560.00,333.82 561.50,333.23 562.40,333.30 563.30,333.46 564.20,334.40 565.10,333.93 566.00,334.15 566.90,334.11 567.80,334.51 568.70,334.49 569.60,334.33 570.50,334.54 571.40,334.40 572.30,334.74 573.20,334.72 574.10,334.33 575.00,334.55 575.90,334.53 576.80,334.43 577.70,334.67 578.60,334.85 579.50,334.49 580.40,334.61 581.30,334.60 582.20,334.64 583.10,334.50 584.00,334.80 584.90,334.64 585.80,334.82 586.70,334.75 587.60,334.73 588.50,334.88 589.40,334.98 590.30,334.84 591.20,334.76 592.10,334.82 593.00,334.88 593.90,334.82 594.80,334.99 595.70,334.99 596.60,334.95 597.50,334.80 598.40,335.00 599.30,335.04 600.20,335.04 601.10,335.07 602.00,335.00 602.90,334.91 603.80,334.84 604.70,334.99 605.60,334.99 606.50,335.01 607.40,335.01 608.30,334.88 609.20,334.95 610.10,335.03 611.00,335.08 611.90,334.89 612.80,334.92 613.70,334.88 614.60,335.05 615.50,334.97 616.40,334.87 617.30,334.96 618.20,334.87 619.10,335.07 620.00,334.86 620.90,335.11 621.80,335.01 622.70,335.12 623.60,334.91 624.50,334.95 625.40,334.87 626.30,334.92 627.20,334.88 628.10,334.99 629.00,334.87 629.90,334.94 630.80,335.04 631.70,334.88 632.60,335.03 633.50,335.08 634.40,335.11 635.30,335.01 636.20,335.08 637.10,334.89 638.00,334.89 638.90,335.08 639.80,335.11 640.70,335.00 641.60,335.09 642.50,335.00 643.40,334.93 644.30,335.07 645.20,335.03 645.70,335.05" class="ln"/>
<polyline points="654.32,331.65 654.64,314.77 655.16,327.43 655.69,321.10 656.22,312.66 656.75,328.48 657.27,310.55 657.80,329.54 658.33,321.10 658.86,263.29 659.38,327.43 659.91,330.59 660.97,331.65 662.02,329.54 663.08,318.99 663.81,331.65 664.66,332.17 665.71,329.54 667.30,322.15 668.03,328.48 668.88,330.59 669.72,328.27 670.46,330.59 671.51,328.48 672.57,331.65 673.62,330.59 674.68,332.70 675.73,330.59 676.79,333.76 677.84,331.65 678.90,332.70 680.27,329.01 681.32,332.70 682.59,329.54 683.65,327.43 684.49,330.59 685.54,328.48 686.60,331.65 688.39,325.84 689.45,329.54 690.50,331.65 691.56,333.23 693.14,331.65 694.72,333.76 696.09,332.70 697.15,330.59 697.89,333.54 699.47,333.76 702.00,334.28 703.50,333.90 704.40,333.82 705.30,334.62 706.20,333.78 707.10,334.66 708.00,334.22 708.90,334.80 709.80,334.23 710.70,334.79 711.60,334.36 712.50,334.38 713.40,334.38 714.30,334.65 715.20,334.38 716.10,334.33 717.00,334.91 717.90,334.68 718.80,334.45 719.70,334.60 720.60,334.78 721.50,334.86 722.40,334.55 723.30,334.99 724.20,334.68 725.10,334.66 726.00,334.98 726.90,334.91 727.80,334.93 728.70,334.84 729.60,334.92 730.50,334.72 731.40,334.72 732.30,334.96 733.20,334.75 734.10,335.06 735.00,335.05 735.90,334.86 736.80,334.82 737.70,334.82 738.60,334.77 739.50,334.82 740.40,335.02 741.30,334.87 742.20,334.82 743.10,335.08 744.00,334.96 744.90,335.06 745.80,335.07 746.70,334.97 747.60,334.92 748.50,334.83 749.40,335.08 750.30,334.97 751.20,334.84 752.10,334.91 753.00,334.97 753.90,335.06 754.80,334.95 755.70,335.05 756.60,334.95 757.50,334.95 758.40,335.02 759.30,334.91 760.20,335.02 761.10,335.00 762.00,334.91 762.90,335.06 763.80,335.08 764.70,334.98 765.60,335.02 766.50,334.90 767.40,335.07 768.30,335.04 769.20,335.12 770.10,335.02 771.00,335.05 771.90,335.02 772.80,334.94 773.70,335.12 774.60,334.88 775.50,334.95 776.40,334.93 777.30,335.00 778.20,334.99 779.10,335.03 780.00,335.03 780.90,335.08 781.80,335.06 782.70,335.06 783.60,335.05 784.50,334.91 785.40,334.93 786.30,334.97 787.20,335.13 788.10,335.07 789.00,335.00 789.90,334.96 790.80,335.03 791.70,334.98 792.60,334.91 793.50,335.07 794.40,335.04 795.30,334.95 796.20,335.06 796.80,335.05" class="ln"/>
</g>
<g class="txt" filter="url(#bt)">
<text x="124.6" y="17.7" class="t" style="font-size:15px;stroke-width:0.05px">FFT of vibrotactile data for three textures a, g, m at speeds 10, 30, 50, 70, 90 mm s<tspan dx="-0.5" dy="-5.2" style="font-size:11px">&#8722;1</tspan></text>
<text x="424.5" y="376.3" text-anchor="middle" class="t" style="font-size:15px;stroke-width:0.05px">frequency (Hz)</text>
<text transform="translate(11,181.6) rotate(-90)" text-anchor="middle" class="t" style="font-size:13.3px;stroke-width:0.05px">intensity (normalized)</text>
<text transform="translate(169.60,49.10) scale(1,1.06)" text-anchor="middle" class="t" style="font-size:13px">a-10</text>
<text transform="translate(320.70,49.10) scale(1,1.06)" text-anchor="middle" class="t" style="font-size:13px">a-30</text>
<text transform="translate(471.80,49.10) scale(1,1.06)" text-anchor="middle" class="t" style="font-size:13px">a-50</text>
<text transform="translate(622.90,49.10) scale(1,1.06)" text-anchor="middle" class="t" style="font-size:13px">a-70</text>
<text transform="translate(774.00,49.10) scale(1,1.06)" text-anchor="middle" class="t" style="font-size:13px">a-90</text>
<text transform="translate(169.60,155.30) scale(1,1.06)" text-anchor="middle" class="t" style="font-size:13px">g-10</text>
<text transform="translate(320.70,155.30) scale(1,1.06)" text-anchor="middle" class="t" style="font-size:13px">g-30</text>
<text transform="translate(471.80,155.30) scale(1,1.06)" text-anchor="middle" class="t" style="font-size:13px">g-50</text>
<text transform="translate(622.90,155.30) scale(1,1.06)" text-anchor="middle" class="t" style="font-size:13px">g-70</text>
<text transform="translate(774.00,155.30) scale(1,1.06)" text-anchor="middle" class="t" style="font-size:13px">g-90</text>
<text transform="translate(169.60,260.70) scale(1,1.06)" text-anchor="middle" class="t" style="font-size:13px">m-10</text>
<text transform="translate(320.70,260.70) scale(1,1.06)" text-anchor="middle" class="t" style="font-size:13px">m-30</text>
<text transform="translate(471.80,260.70) scale(1,1.06)" text-anchor="middle" class="t" style="font-size:13px">m-50</text>
<text transform="translate(622.90,260.70) scale(1,1.06)" text-anchor="middle" class="t" style="font-size:13px">m-70</text>
<text transform="translate(774.00,260.70) scale(1,1.06)" text-anchor="middle" class="t" style="font-size:13px">m-90</text>
<text transform="translate(45.20,127.66) scale(1,1.06)" text-anchor="end" class="t" style="font-size:13px">0</text>
<text transform="translate(45.20,104.03) scale(1,1.06)" text-anchor="end" class="t" style="font-size:13px">0.25</text>
<text transform="translate(45.20,80.39) scale(1,1.06)" text-anchor="end" class="t" style="font-size:13px">0.50</text>
<text transform="translate(45.20,56.76) scale(1,1.06)" text-anchor="end" class="t" style="font-size:13px">0.75</text>
<text transform="translate(45.20,233.91) scale(1,1.06)" text-anchor="end" class="t" style="font-size:13px">0</text>
<text transform="translate(45.20,210.38) scale(1,1.06)" text-anchor="end" class="t" style="font-size:13px">0.25</text>
<text transform="translate(45.20,186.84) scale(1,1.06)" text-anchor="end" class="t" style="font-size:13px">0.50</text>
<text transform="translate(45.20,163.31) scale(1,1.06)" text-anchor="end" class="t" style="font-size:13px">0.75</text>
<text transform="translate(45.20,339.71) scale(1,1.06)" text-anchor="end" class="t" style="font-size:13px">0</text>
<text transform="translate(45.20,316.23) scale(1,1.06)" text-anchor="end" class="t" style="font-size:13px">0.25</text>
<text transform="translate(45.20,292.74) scale(1,1.06)" text-anchor="end" class="t" style="font-size:13px">0.50</text>
<text transform="translate(45.20,269.26) scale(1,1.06)" text-anchor="end" class="t" style="font-size:13px">0.75</text>
<text transform="translate(50.70,353.00) scale(1,1.04)" text-anchor="middle" class="t" style="font-size:13px">0</text>
<text transform="translate(86.33,353.00) scale(1,1.04)" text-anchor="middle" class="t" style="font-size:13px">50</text>
<text transform="translate(121.95,353.00) scale(1,1.04)" text-anchor="middle" class="t" style="font-size:13px">100</text>
<text transform="translate(157.57,353.00) scale(1,1.04)" text-anchor="middle" class="t" style="font-size:13px">150</text>
<text transform="translate(201.80,353.00) scale(1,1.04)" text-anchor="middle" class="t" style="font-size:13px">0</text>
<text transform="translate(237.42,353.00) scale(1,1.04)" text-anchor="middle" class="t" style="font-size:13px">50</text>
<text transform="translate(273.05,353.00) scale(1,1.04)" text-anchor="middle" class="t" style="font-size:13px">100</text>
<text transform="translate(308.67,353.00) scale(1,1.04)" text-anchor="middle" class="t" style="font-size:13px">150</text>
<text transform="translate(352.90,353.00) scale(1,1.04)" text-anchor="middle" class="t" style="font-size:13px">0</text>
<text transform="translate(388.53,353.00) scale(1,1.04)" text-anchor="middle" class="t" style="font-size:13px">50</text>
<text transform="translate(424.15,353.00) scale(1,1.04)" text-anchor="middle" class="t" style="font-size:13px">100</text>
<text transform="translate(459.78,353.00) scale(1,1.04)" text-anchor="middle" class="t" style="font-size:13px">150</text>
<text transform="translate(504.00,353.00) scale(1,1.04)" text-anchor="middle" class="t" style="font-size:13px">0</text>
<text transform="translate(539.62,353.00) scale(1,1.04)" text-anchor="middle" class="t" style="font-size:13px">50</text>
<text transform="translate(575.25,353.00) scale(1,1.04)" text-anchor="middle" class="t" style="font-size:13px">100</text>
<text transform="translate(610.88,353.00) scale(1,1.04)" text-anchor="middle" class="t" style="font-size:13px">150</text>
<text transform="translate(655.10,353.00) scale(1,1.04)" text-anchor="middle" class="t" style="font-size:13px">0</text>
<text transform="translate(690.73,353.00) scale(1,1.04)" text-anchor="middle" class="t" style="font-size:13px">50</text>
<text transform="translate(726.35,353.00) scale(1,1.04)" text-anchor="middle" class="t" style="font-size:13px">100</text>
<text transform="translate(761.98,353.00) scale(1,1.04)" text-anchor="middle" class="t" style="font-size:13px">150</text>
</g>
</svg>
</body></html>
